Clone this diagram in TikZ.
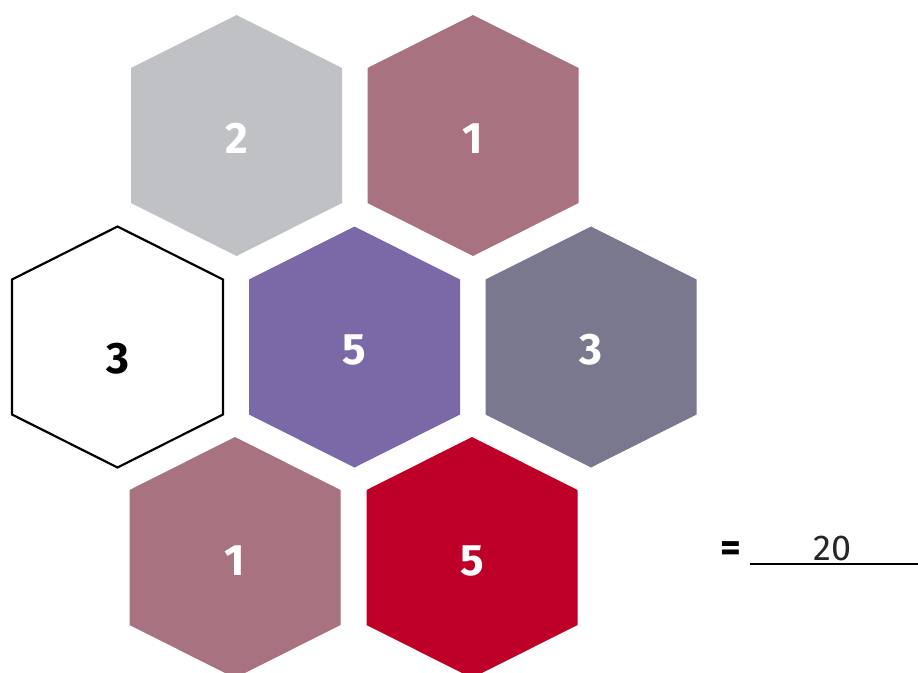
\documentclass[tikz,border=0pt]{standalone}
\usepackage{fontspec}
\setmainfont{Fira Sans}
\definecolor{cellgray}{HTML}{C0C1C5}
\definecolor{cellmauve}{HTML}{A87280}
\definecolor{cellpurple}{HTML}{7B68A6}
\definecolor{cellslate}{HTML}{7A788E}
\definecolor{cellred}{HTML}{BE0028}
\tikzset{
  digit/.style={font=\bfseries\fontsize{44}{44}\selectfont, text=white, inner sep=0pt},
  answer/.style={font=\fontsize{36}{36}\selectfont, text=black!85, inner sep=0pt, anchor=base}
}

\begin{document}
\begin{tikzpicture}[x=1pt, y=-1pt]
  \useasboundingbox (0,0) rectangle (918,672);
  \clip (0,0) rectangle (918,672);
  % filled cells
  \foreach \name/\cx/\cy/\col/\val in {two/236.5/135.5/cellgray/2, oneA/473/135.5/cellmauve/1,
      fiveA/354.5/347/cellpurple/5, threeB/591/347/cellslate/3,
      oneB/235/557.5/cellmauve/1, fiveB/472/557.5/cellred/5}{
    \fill[\col] (\cx,\cy) ++(0,-120.5) -- ++(105.5,53) -- ++(0,135) -- ++(-105.5,53) -- ++(-105.5,-53) -- ++(0,-135) -- cycle;
    \node[digit] (\name) at (\cx,\cy+3) {\val};
  }
  % empty cell
  \draw[line width=2.2pt, line join=miter] (117.5,347) ++(0,-120.5) -- ++(105.5,53) -- ++(0,135) -- ++(-105.5,53) -- ++(-105.5,-53) -- ++(0,-135) -- cycle;
  \node[digit, text=black] (threeA) at (117.5,359) {3};
  % total
  \node[font=\bfseries\fontsize{40}{40}\selectfont, inner sep=0pt] (equals) at (731,552) {=};
  \coordinate (lineL) at (750,564);
  \coordinate (lineR) at (918,564);
  \draw[line width=1.8pt] (lineL) -- (lineR);
  \node[answer] (total) at (832.5,560) {20};
\end{tikzpicture}
\end{document}
